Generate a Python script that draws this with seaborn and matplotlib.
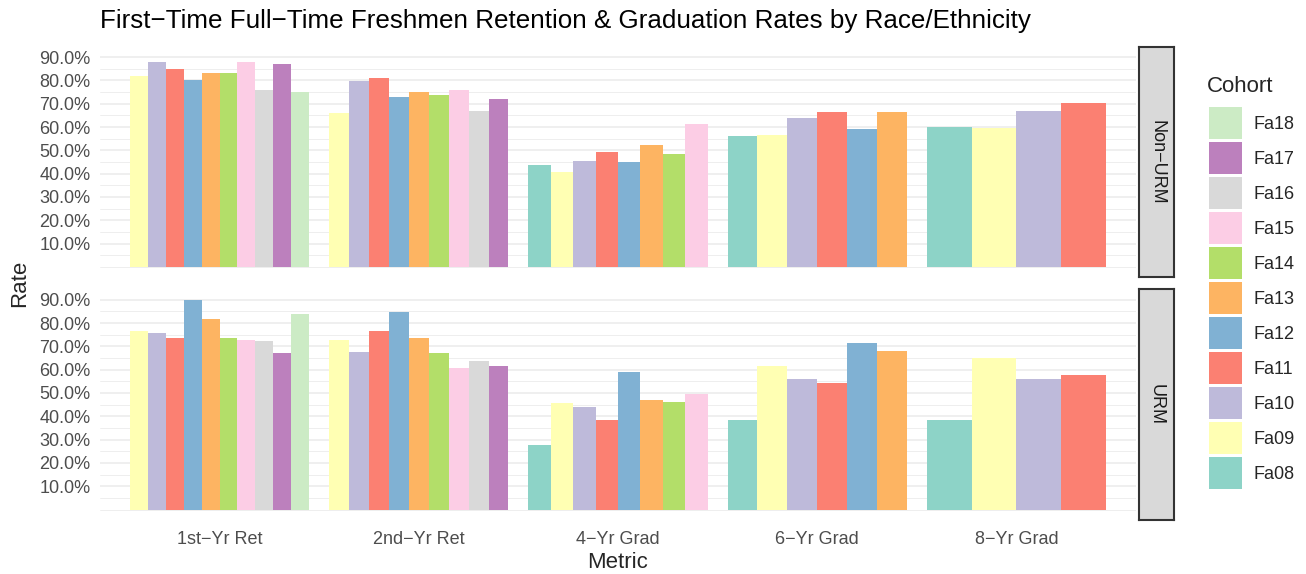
import matplotlib
matplotlib.use("Agg")
import matplotlib.pyplot as plt
import numpy as np
import pandas as pd
import seaborn as sns
from matplotlib.patches import Patch
from matplotlib.ticker import PercentFormatter

# ---- data ----
cohorts = ["Fa08", "Fa09", "Fa10", "Fa11", "Fa12", "Fa13", "Fa14", "Fa15", "Fa16", "Fa17", "Fa18"]
metrics = ["1st\u2212Yr Ret", "2nd\u2212Yr Ret", "4\u2212Yr Grad", "6\u2212Yr Grad", "8\u2212Yr Grad"]
groups = ["Non\u2212URM", "URM"]

# cohorts that have a value for each metric
metric_cohorts = [cohorts[1:11], cohorts[1:10], cohorts[0:8], cohorts[0:6], cohorts[0:4]]

nonurm_ret1 = [82.0, 88.0, 85.0, 80.0, 83.0, 83.0, 88.0, 76.0, 87.0, 75.0]
nonurm_ret2 = [66.0, 79.7, 81.0, 72.9, 75.0, 73.7, 75.8, 66.9, 72.0]
nonurm_grad4 = [43.7, 40.8, 45.4, 49.3, 45.0, 52.3, 48.4, 61.2]
nonurm_grad6 = [56.1, 56.5, 63.8, 66.4, 59.1, 66.4]
nonurm_grad8 = [60.0, 59.6, 66.8, 70.3]

urm_ret1 = [76.7, 75.9, 73.7, 90.0, 81.9, 73.7, 72.9, 72.1, 67.0, 84.0]
urm_ret2 = [72.9, 67.8, 76.7, 84.8, 73.7, 67.0, 60.9, 63.9, 61.8]
urm_grad4 = [27.5, 45.9, 43.8, 38.6, 58.8, 47.1, 46.3, 49.7]
urm_grad6 = [38.6, 61.4, 55.8, 54.5, 71.6, 68.2]
urm_grad8 = [38.6, 65.0, 55.8, 57.9]

values = {
    groups[0]: [nonurm_ret1, nonurm_ret2, nonurm_grad4, nonurm_grad6, nonurm_grad8],
    groups[1]: [urm_ret1, urm_ret2, urm_grad4, urm_grad6, urm_grad8],
}

rows = []
for grp in groups:
    for i, (metric, present) in enumerate(zip(metrics, metric_cohorts)):
        for coh, val in zip(present, values[grp][i]):
            rows.append({"group": grp, "metric": metric, "pos": float(i),
                         "cohort": coh, "rate": val / 100.0})
df = pd.DataFrame(rows)

palette = dict(zip(cohorts, sns.color_palette("Set3", len(cohorts))))

# ---- figure ----
sns.set_theme(style="white")
plt.rcParams["font.family"] = ["Liberation Sans", "DejaVu Sans"]

W, H = 1306, 574
fig = plt.figure(figsize=(W / 100, H / 100), dpi=100)


def fx(px):
    return px / W


def fy(px):
    return 1 - px / H


panel_left, panel_right = 100, 1136
panel_rows = [(46.7, 277.3), (289.3, 520.0)]
strip_left, strip_right = 1139, 1174

for r, grp in enumerate(groups):
    top, bottom = panel_rows[r]
    ax = fig.add_axes([fx(panel_left), fy(bottom), fx(panel_right - panel_left), (bottom - top) / H])
    sub = df[df["group"] == grp]
    # one call per metric so the dodge only spreads over the cohorts present there
    for i, present in enumerate(metric_cohorts):
        part = sub[sub["pos"] == float(i)]
        sns.barplot(data=part, x="pos", y="rate", hue="cohort", hue_order=present,
                    palette=palette, native_scale=True, width=0.9, dodge=True,
                    saturation=1, errorbar=None, legend=False, linewidth=0, ax=ax)

    ax.set_xlim(-0.6, len(metrics) - 0.4)
    ax.set_ylim(-0.045, 0.945)
    ax.set_yticks(np.arange(0.1, 0.91, 0.1))
    ax.set_yticks(np.arange(0.0, 0.95, 0.05), minor=True)
    ax.yaxis.set_major_formatter(PercentFormatter(1, decimals=1))
    ax.grid(False)
    ax.grid(True, which="major", axis="y", color="#EBEBEB", linewidth=1.1, zorder=0)
    ax.grid(True, which="minor", axis="y", color="#EBEBEB", linewidth=0.6, zorder=0)
    ax.set_axisbelow(True)
    ax.tick_params(axis="both", which="both", length=0, labelsize=13, labelcolor="#4D4D4D")
    ax.tick_params(axis="y", pad=7)
    ax.tick_params(axis="x", pad=8)
    ax.set_xticks(range(len(metrics)))
    if r == len(groups) - 1:
        ax.set_xticklabels(metrics)
    else:
        ax.set_xticklabels([])
    ax.set_xlabel("")
    ax.set_ylabel("")
    for s in ax.spines.values():
        s.set_visible(False)

    # facet strip
    sax = fig.add_axes([fx(strip_left), fy(bottom), fx(strip_right - strip_left), (bottom - top) / H])
    sax.set_facecolor("#D9D9D9")
    sax.set_xticks([])
    sax.set_yticks([])
    for s in sax.spines.values():
        s.set_visible(True)
        s.set_color("#333333")
        s.set_linewidth(1.5)
    sax.text(0.5, 0.5, grp, rotation=-90, ha="center", va="center",
             fontsize=13, color="#1A1A1A", transform=sax.transAxes)

fig.text(fx(100), fy(21), "First\u2212Time Full\u2212Time Freshmen Retention & Graduation Rates by Race/Ethnicity",
         fontsize=18.7, ha="left", va="center", color="black")
fig.text(fx(20), fy(283), "Rate", rotation=90, fontsize=16, ha="center", va="center")
fig.text(fx((panel_left + panel_right) / 2), fy(562), "Metric", fontsize=16, ha="center", va="center")

fig.text(fx(1207), fy(86), "Cohort", fontsize=16, ha="left", va="center")
handles = [Patch(facecolor=palette[c], edgecolor="none") for c in cohorts[::-1]]
fig.legend(handles, cohorts[::-1], loc="upper left",
           bbox_to_anchor=(fx(1209), fy(107)), frameon=False, fontsize=13,
           handlelength=1.83, handleheight=2.35, labelspacing=0.166, handletextpad=0.65,
           borderpad=0, borderaxespad=0)

fig.savefig("out.png", dpi=100)
